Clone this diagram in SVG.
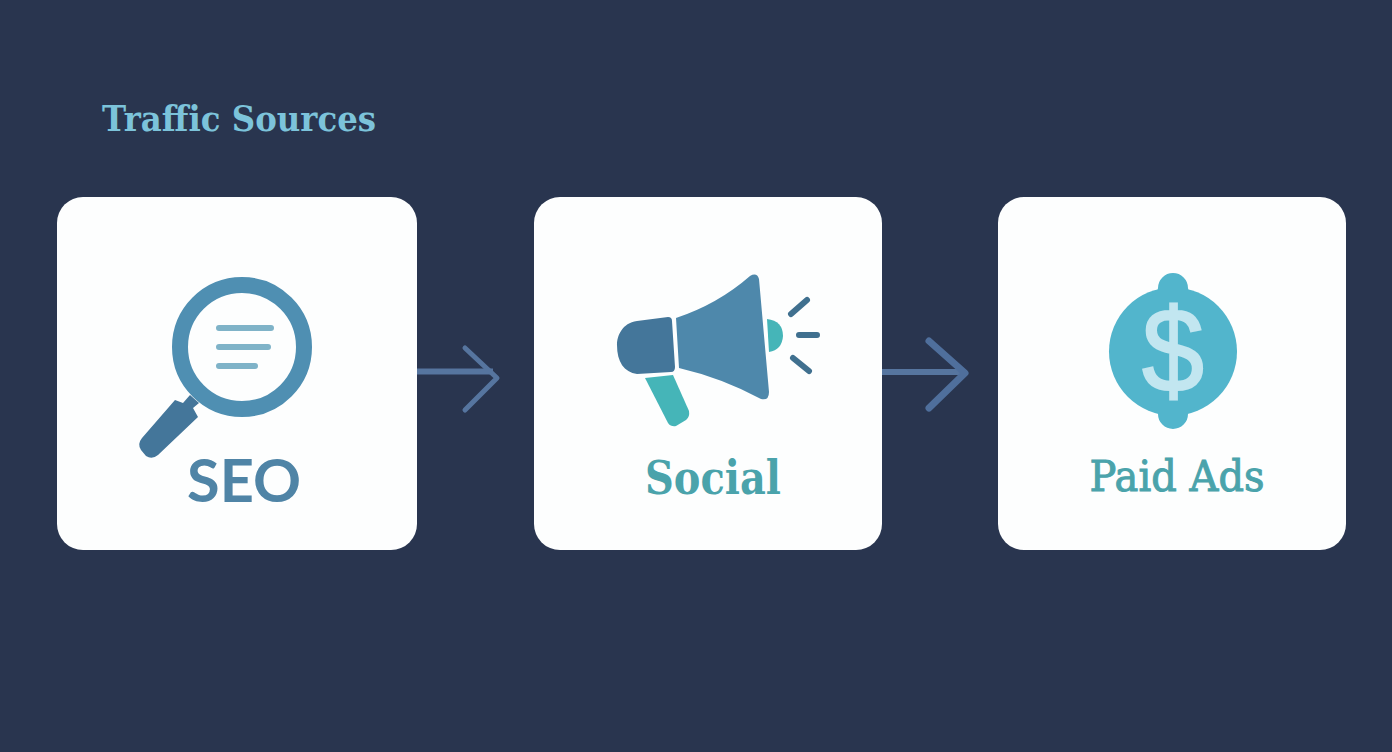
<svg xmlns="http://www.w3.org/2000/svg" width="1392" height="752" viewBox="0 0 1392 752">
<style>
.card{fill:#fdfefe}
.slab{font-family:"DejaVu Serif",serif}
.conn{fill:none;stroke-linecap:round;stroke-linejoin:round}
.blue{fill:#4e88ab}
.dark{fill:#44769a}
.teal{fill:#45b5b8}
.coin{fill:#52b5cc}
.ray{stroke:#40708f;stroke-width:6;stroke-linecap:round;fill:none}
.line{stroke:#7fb3c8;stroke-width:6;stroke-linecap:round;fill:none}
</style>
<rect width="1392" height="752" fill="#29354f"/>
<text class="slab" x="102" y="131" font-size="36" font-weight="700" fill="#7cc3da" textLength="274" lengthAdjust="spacingAndGlyphs">Traffic Sources</text>
<g id="connectors">
<path class="conn" d="M417 371.500H493" stroke="#56759f" stroke-width="6" style="stroke-linecap:butt"/>
<path class="conn" d="M465 348L497 378L465 410" stroke="#56759f" stroke-width="5"/>
<path class="conn" d="M882 372H962" stroke="#56759f" stroke-width="6" style="stroke-linecap:butt"/>
<path class="conn" d="M929 341L965 373L929 408" stroke="#4f6f9c" stroke-width="7"/>
</g>
<g id="seo">
<rect class="card" x="57" y="197" width="360" height="353" rx="26"/>
<circle cx="242" cy="347" r="62" fill="none" stroke="#4f8fb2" stroke-width="16"/>
<path class="line" d="M219 328H271M219 347H268M219 366H255"/>
<path class="dark" d="M175 400L183 403L190 395L199 403L193 408L198 417L158 455Q152 460 146 456L141 450Q137 444 142 438Z"/>
<text x="244" y="501.500" text-anchor="middle" font-family="Lato,sans-serif" font-weight="700" font-size="60" fill="#4f84a6" textLength="114" lengthAdjust="spacingAndGlyphs">SEO</text>
</g>
<g id="social">
<rect class="card" x="534" y="197" width="348" height="353" rx="26"/>
<path class="blue" d="M676 318Q718 304 750 276Q757 272 759 279L769 392Q769 401 761 399Q722 378 679 368Z"/>
<path class="dark" d="M637 321L668 317Q672 317 672 321L675 367Q675 372 671 372L637 374C624 372 617 362 617 345C617 336 622 323 637 321Z"/>
<path class="teal" d="M645 378L673 375L689 411Q690 417 686 420L676 426Q671 427 668 423Z"/>
<path class="teal" d="M767 319Q783 321 783 336Q782 350 769 352Z"/>
<path class="ray" d="M791 314L807 300M799 335H817M793 358L809 371"/>
<text class="slab" x="713" y="493.500" text-anchor="middle" font-size="46" font-weight="700" fill="#4aa3ab" textLength="136" lengthAdjust="spacingAndGlyphs">Social</text>
</g>
<g id="paid-ads">
<rect class="card" x="998" y="197" width="348" height="353" rx="26"/>
<circle class="coin" cx="1173" cy="351.500" r="64"/>
<path class="coin" d="M1150 297Q1158 293 1158 288A15 15 0 0 1 1188 288Q1188 293 1196 297ZM1150 406Q1158 410 1158 414A14.500 14.500 0 0 0 1188 414Q1188 410 1196 406Z"/>
<text x="1173" y="391" text-anchor="middle" font-family="'Liberation Sans',sans-serif" font-size="118" stroke="#c2e6f0" stroke-width="2" fill="#c2e6f0" textLength="62" lengthAdjust="spacingAndGlyphs">$</text>
<text class="slab" x="1177" y="491" text-anchor="middle" font-size="43" font-weight="400" stroke="#4aa3ab" stroke-width="1" fill="#4aa3ab" textLength="175" lengthAdjust="spacingAndGlyphs">Paid Ads</text>
</g>
</svg>
